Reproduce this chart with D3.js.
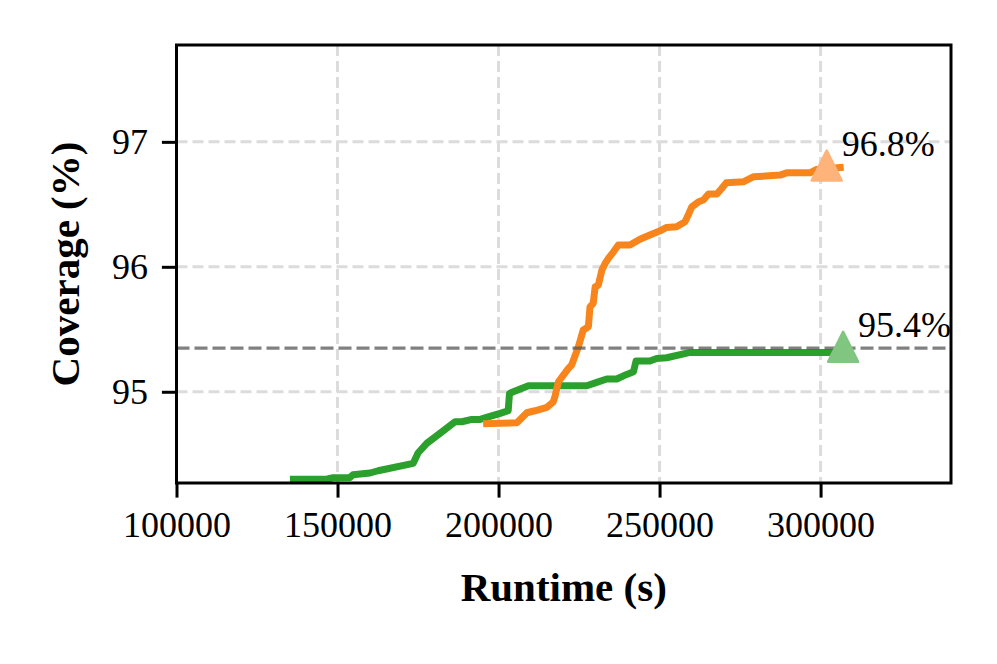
<!DOCTYPE html>
<html><head><meta charset="utf-8">
<script src="https://cdn.jsdelivr.net/npm/d3@7/dist/d3.min.js"></script>
<style>body{margin:0;background:#fff} svg{display:block}</style>
</head><body>
<svg id="c" width="997" height="664"></svg>
<script>
// ---- data ----
const xTicks = [100000, 150000, 200000, 250000, 300000];
const yTicks = [95, 96, 97];
const greenX = [136300,146600,148600,153900,154800,160100,162600,173500,175000,177700,181800,186500,188600,191700,194300,196300,200500,203000,203400,204600,209300,227400,230500,233600,236700,239800,241900,242700,247000,249100,252200,259500,306100];
const greenY = [94.30,94.30,94.312,94.315,94.336,94.35,94.368,94.427,94.51,94.587,94.667,94.76,94.76,94.779,94.779,94.795,94.827,94.848,94.987,95.0,95.048,95.048,95.075,95.102,95.102,95.139,95.16,95.246,95.246,95.267,95.272,95.315,95.315];
const orangeX = [196300,205700,208800,211300,215000,217000,217500,218600,221700,222700,224800,226300,227900,228400,229400,230000,231000,232100,233100,234100,235700,237200,240800,243900,247000,250200,252200,255300,257900,258900,260000,262100,263600,265200,267800,269300,270700,276000,279100,287400,289500,296700,298800,306100];
const orangeY = [94.745,94.752,94.832,94.848,94.875,94.92,94.96,95.08,95.187,95.214,95.36,95.494,95.52,95.68,95.707,95.84,95.854,95.974,96.027,96.067,96.12,96.174,96.174,96.22,96.254,96.288,96.315,96.32,96.36,96.414,96.48,96.52,96.534,96.582,96.582,96.627,96.672,96.68,96.72,96.734,96.752,96.752,96.779,96.795];
const refLine = 95.35;
const markerX = [301900, 307000];
const markerY = [96.81, 95.36];
const markerLabels = ["96.8%", "95.4%"];
const xLabel = "Runtime (s)";
const yLabel = "Coverage (%)";

// ---- layout ----
const L = 176.5, R = 951, T = 45, B = 483;
const font = "'Liberation Serif', 'DejaVu Serif', serif";
const svg = d3.select("#c");
const x = d3.scaleLinear().domain([100000, 340500]).range([L, R]);
const y = d3.scaleLinear().domain([94.27, 97.775]).range([B, T]);

svg.append("defs").append("clipPath").attr("id","clip")
  .append("rect").attr("x",L).attr("y",T).attr("width",R-L).attr("height",B-T);

// grid
const grid = svg.append("g");
grid.selectAll("line.v").data(xTicks).join("line")
  .attr("x1",d=>x(d)).attr("x2",d=>x(d)).attr("y1",T).attr("y2",B)
  .attr("stroke","#dcdcdc").attr("stroke-width",3).attr("stroke-dasharray","11,5");
grid.selectAll("line.h").data(yTicks).join("line")
  .attr("y1",d=>y(d)).attr("y2",d=>y(d)).attr("x1",L).attr("x2",R)
  .attr("stroke","#dcdcdc").attr("stroke-width",3).attr("stroke-dasharray","11,5");

const plot = svg.append("g").attr("clip-path","url(#clip)");
const line = d3.line().x(d=>x(d[0])).y(d=>y(d[1]));
plot.append("path").datum(greenX.map((v,i)=>[v,greenY[i]])).attr("d",line)
  .attr("fill","none").attr("stroke","#2ca02c").attr("stroke-width",7)
  .attr("stroke-linejoin","round").attr("stroke-linecap","square");
plot.append("path").datum(orangeX.map((v,i)=>[v,orangeY[i]])).attr("d",line)
  .attr("fill","none").attr("stroke","#f7851b").attr("stroke-width",7)
  .attr("stroke-linejoin","round").attr("stroke-linecap","square");

// reference line
plot.append("line").attr("x1",L).attr("x2",R).attr("y1",y(refLine)).attr("y2",y(refLine))
  .attr("stroke","#555").attr("stroke-opacity",0.75).attr("stroke-width",3.3)
  .attr("stroke-dasharray","13,5");

// markers
const mColors = ["#fdb37a", "#80c680"];
const triPath = "M0,-15L15,15L-15,15Z";
svg.selectAll("path.m").data(markerX).join("path")
  .attr("d", triPath)
  .attr("transform",(d,i)=>`translate(${x(d)},${y(markerY[i])})`)
  .attr("fill",(d,i)=>mColors[i]).attr("stroke",(d,i)=>mColors[i])
  .attr("stroke-width",2.5).attr("stroke-linejoin","round");
svg.selectAll("text.m").data(markerX).join("text")
  .attr("x",d=>x(d)+15).attr("y",(d,i)=>y(markerY[i])-10)
  .attr("font-family",font).attr("font-size",36).attr("fill","#000")
  .text((d,i)=>markerLabels[i]);

// axes
const xa = svg.append("g").attr("transform",`translate(0,${B})`)
  .call(d3.axisBottom(x).tickValues(xTicks).tickFormat(d3.format("d")).tickSize(14.6).tickPadding(14));
const ya = svg.append("g").attr("transform",`translate(${L},0)`)
  .call(d3.axisLeft(y).tickValues(yTicks).tickFormat(d3.format("d")).tickSize(14.6).tickPadding(14));
[xa,ya].forEach(a=>{
  a.select(".domain").remove();
  a.selectAll(".tick line").attr("stroke","#000").attr("stroke-width",3);
  a.selectAll(".tick text").attr("font-family",font).attr("font-size",36).attr("fill","#000");
});
ya.selectAll(".tick text").attr("dy","0.33em");

// frame
svg.append("rect").attr("x",L).attr("y",T).attr("width",R-L).attr("height",B-T)
  .attr("fill","none").attr("stroke","#000").attr("stroke-width",3);

// labels
svg.append("text").attr("x",(L+R)/2).attr("y",601).attr("text-anchor","middle")
  .attr("font-family",font).attr("font-size",41).attr("font-weight","bold").text(xLabel);
svg.append("text").attr("transform",`translate(79,${(T+B)/2}) rotate(-90)`).attr("text-anchor","middle")
  .attr("font-family",font).attr("font-size",41).attr("font-weight","bold").text(yLabel);
</script>
</body></html>
